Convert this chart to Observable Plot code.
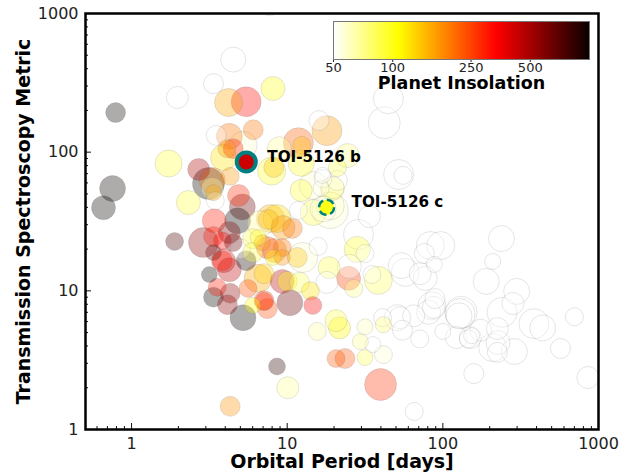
<!DOCTYPE html>
<html>
<head>
<meta charset="utf-8">
<script src="https://cdn.jsdelivr.net/npm/d3@7"></script>
<script src="https://cdn.jsdelivr.net/npm/@observablehq/plot@0.6"></script>
<style>
  html, body { margin: 0; padding: 0; background: white; }
  #chart { position: relative; width: 635px; height: 474px; overflow: hidden; }
  #chart > svg { position: absolute; left: 0; top: 0; }
  #chart > svg.inset { left: 323px; top: 21px; }
</style>
</head>
<body>
<div id="chart"></div>
<script>
const periods = [
  4.5,3.36,1.97,4.2,5.45,8.1,0.79,3.5,4.25,6.05,
  16,18,11.8,12.4,8.9,5.2,4.5,4.1,3.9,1.73,
  2.7,7.94,8.2,12.3,3.12,3.3,4.3,0.755,0.66,2.32,
  3.3,3.36,3.45,4.87,5.15,12.3,14.7,17,
  19.7,16.5,11.8,14.7,18.9,44.7,42,24.4,21,52,
  55.5,21,16.9,19.5,18.9,17,28.7,33.7,15.8,28.2,
  31.6,12.6,18.6,24.8,26.8,18,25.1,38.5,35,
  54,57.3,71.5,77,83,97,76,88,238,209,
  190,298,282,240,385,438,700,570,855,158,
  65.5,39.8,41.5,31.6,23.5,20.6,10.1,35.5,29.5,31.6,
  21.7,20.6,15.6,41.5,41,51,53,55,65,71,
  81,87,89,85,100,131,127,129,122,150,
  153,146,175,224,209,226,224,288,
  2.9,3.4,4.8,4.25,3.36,3.83,4.5,3.36,3.9,3.83,
  4.25,5.45,5,3.16,3.55,3.36,4.3,4.13,5.2,5.6,
  7.1,7.1,7.45,6.5,7.1,9.3,10,10.4,12,14.1,
  14.6,6.7,7.8,8.6,7.55,9.4,10.8,7.45,6.9,8.3,
  9.3,11.6,6,6.5,6,8.1,9.3,6,
  7.7,8.6,4.3,1.89
];
const tsmValues = [
  465,312,248,228,231,288,193,132,130,145,
  169,143,117,112,106,112,106,106,91.4,82.8,
  75,73,77.5,83,59.4,62.5,67,54.7,39.8,43.3,
  54.7,51,44.7,48.7,40.3,53,57.5,64.5,
  55.5,54.7,38,36.7,41,243,163,94.5,77.4,69,
  68,62.5,68,54.7,38,39,25.5,34.3,20.9,19.9,
  18.6,17.4,14.7,12.3,10.4,11.5,15,11.9,13.1,
  15.2,13.6,13.3,12.3,21.2,21.2,18.6,15.5,23.8,16.3,
  11.7,9.9,8.1,7,5.8,5.4,6.5,3.84,2.37,2.53,
  1.35,2.11,3.47,3.3,3.25,3.25,2,4.1,4.3,5.5,
  5.4,6.1,5.1,5.7,6.4,6.4,6.4,5.2,6.6,4.5,
  7,7.6,8.8,7.8,5.1,7,6.6,6.85,4.6,4.6,
  4.75,4.5,5.2,5.35,3.9,4.24,3.6,3.65,
  22.3,32,32,26.3,24.6,23,22.3,18.9,16.5,16.5,
  14.2,16.5,20.1,13.1,10.6,9,9.6,7.95,6.4,10.4,
  8.4,8.5,7.45,12.3,13.3,11.7,11.7,8.2,11.5,10,
  7.85,30.5,33.2,33.2,32.7,28.6,28.2,20.5,22.3,19.5,
  20.5,17.4,23.8,24.2,18.9,17.4,17.4,7.85,
  1178,2.85,1.47,22.7
];
const insolations = [
  50,50,50,160,330,100,1500,50,200,200,
  50,170,220,140,68,58,300,170,120,90,
  480,95,140,95,1500,190,170,1500,1500,90,
  65,160,50,280,650,90,58,50,
  62,51,50,85,58,50,50,72,82,50,
  50,50,50,82,58,51,50,50,50,95,
  50,58,85,250,72,50,50,82,50,
  50,50,50,50,50,50,50,50,50,50,
  50,50,50,50,50,50,50,50,50,50,
  50,270,58,82,230,230,70,50,70,62,
  110,85,66,76,50,50,50,50,50,50,
  50,50,50,50,50,50,50,50,50,50,
  50,50,50,50,50,50,50,50,
  560,300,1500,600,300,330,650,650,380,300,
  450,950,50,1500,300,1100,550,550,1500,240,
  280,260,240,160,130,450,105,650,82,120,
  340,66,150,125,150,175,200,250,165,185,
  200,140,88,95,88,105,175,105,
  50,850,175,750
];
const planetRadius = [
  12.5,10,11,14,15,12,10,10,13,10,
  10,15,15,9,12,14,10,9,13,13.5,
  11,14,10,13,16,13,9,13,12,12,
  11,8,9,11,13,11,14,9,
  11,8,9,13,14,15,16,12,9,15,
  9,10,8,12,18,13,15,11,9,13,
  9,15,11,12,9,11,12,14,9,
  13,14,11,12,14,14,10,8,13,8,
  13,13,11,15,15,13,9,10,11,10,
  9,16,9,8,10,9,11,8,8,8,
  11,11,9,8,9,13,11,10,11,9,
  12,11,10,14,8,16,13,15,11,11,
  8,9,11,11,14,12,10,13,
  15,12,13,11,10,9,9,8,12,10,
  12,10,10,8,9,10,10,10,13,9,
  9,10,10,14,10,12,10,13,10,9,
  9,13,14,14,10,12,10,11,8,12,
  9,10,10,8,10,8,8,8,
  12,8.5,10,9
];
const toiBName = ["TOI-5126 b"];
const toiBPeriod = [5.46];
const toiBTsm = [85];
const toiBInsolation = [420];
const toiBRadius = [9.5];
const toiCName = ["TOI-5126 c"];
const toiCPeriod = [17.9];
const toiCTsm = [40];
const toiCInsolation = [100];
const toiCRadius = [7.5];

const majorTicks = [1, 10, 100, 1000];
const minorXTicks = [0.6,0.7,0.8,0.9,2,3,4,5,6,7,8,9,20,30,40,50,60,70,80,90,200,300,400,500,600,700,800,900];
const minorYTicks = [2,3,4,5,6,7,8,9,20,30,40,50,60,70,80,90,200,300,400,500,600,700,800,900];
const barTicks = [50, 100, 250, 500];

const colorScale = {
  type: "log",
  domain: [50, 107, 335, 1000],
  range: ["#ffffff", "#ffff00", "#ff0000", "#0a0000"],
  interpolate: "rgb",
  clamp: true
};
const fontFamily = "'DejaVu Sans', sans-serif";
const noLabel = () => "";

const main = Plot.plot({
  width: 635, height: 474,
  marginLeft: 85, marginRight: 37, marginTop: 13, marginBottom: 45,
  style: {fontFamily, background: "white", overflow: "hidden"},
  x: {type: "log", domain: [0.506, 1000]},
  y: {type: "log", domain: [1, 1000]},
  r: {type: "linear", domain: [0, 20], range: [0, 20]},
  color: colorScale,
  marks: [
    Plot.dot(periods, {x: periods, y: tsmValues, r: planetRadius, fill: insolations,
      fillOpacity: 0.33, stroke: "#666", strokeOpacity: 0.17, strokeWidth: 1, clip: "frame"}),
    Plot.dot(toiBPeriod, {x: toiBPeriod, y: toiBTsm, r: toiBRadius, fill: toiBInsolation,
      stroke: "teal", strokeWidth: 4}),
    Plot.dot(toiCPeriod, {x: toiCPeriod, y: toiCTsm, r: toiCRadius, fill: toiCInsolation,
      stroke: "teal", strokeWidth: 2.5, strokeDasharray: "8,3.8"}),
    Plot.text(toiBName, {x: toiBPeriod, y: toiBTsm, text: toiBName, dx: 21, dy: -5,
      textAnchor: "start", fontWeight: "bold", fontSize: 15.2, fill: "black"}),
    Plot.text(toiCName, {x: toiCPeriod, y: toiCTsm, text: toiCName, dx: 25, dy: -5,
      textAnchor: "start", fontWeight: "bold", fontSize: 15.2, fill: "black"}),
    Plot.axisX({ticks: majorTicks, tickFormat: d3.format("d"), tickSize: -6, tickPadding: 14, fontSize: 16, label: null, stroke: "#111", color: "#222"}),
    Plot.axisX({ticks: minorXTicks, tickFormat: noLabel, tickSize: -3, label: null, stroke: "#111"}),
    Plot.axisY({ticks: majorTicks, tickFormat: d3.format("d"), tickSize: -6, tickPadding: 13, fontSize: 16, label: null, stroke: "#111", color: "#222"}),
    Plot.axisY({ticks: minorYTicks, tickFormat: noLabel, tickSize: -3, label: null, stroke: "#111"}),
    Plot.frame({stroke: "black", strokeWidth: 2.5}),
    Plot.text(["Orbital Period [days]"], {frameAnchor: "bottom", dy: 38, fontWeight: "bold", fontSize: 19, fill: "black"}),
    Plot.text(["Transmission Spectroscopy Metric"], {frameAnchor: "left", dx: -62, rotate: -90, textAnchor: "middle", fontWeight: "bold", fontSize: 19, fill: "black"})
  ]
});

const barStops = d3.range(0, 257).map(i => 50 * Math.pow(20, i / 256));
const inset = Plot.plot({
  width: 276, height: 75,
  marginLeft: 10, marginRight: 10, marginTop: 0, marginBottom: 37,
  style: {fontFamily, background: "transparent", overflow: "visible"},
  x: {type: "log", domain: [50, 1000]},
  y: {domain: [0, 1], axis: null},
  color: colorScale,
  marks: [
    Plot.rect(barStops.slice(0, -1), {
      x1: d => d, x2: d => Math.min(1000, d * 1.016), y1: 0, y2: 1, fill: d => d
    }),
    Plot.axisX({ticks: barTicks, tickFormat: d3.format("d"), tickSize: 3, tickPadding: 0, fontSize: 13, label: null, color: "#222"}),
    Plot.frame({stroke: "#777", strokeWidth: 1}),
    Plot.text(["Planet Insolation"], {frameAnchor: "bottom", dy: 29, fontWeight: "bold", fontSize: 17.5, fill: "black"})
  ]
});
inset.classList.add("inset");
const chart = document.getElementById("chart");
chart.append(main, inset);
</script>
</body>
</html>
